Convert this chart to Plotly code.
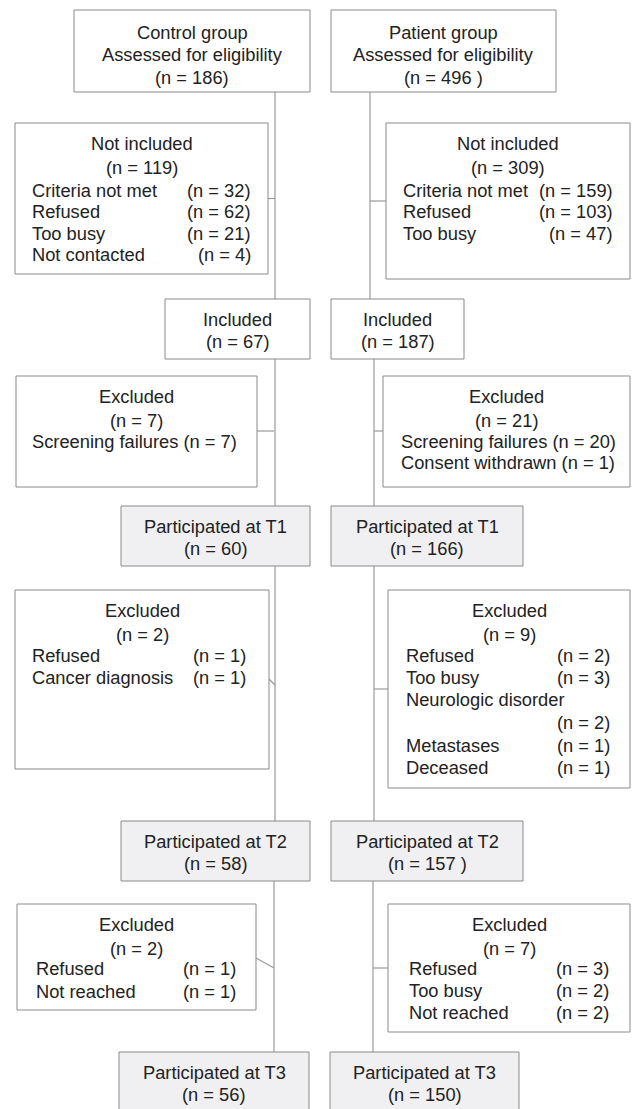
import plotly.graph_objects as go

# ---------------- data ----------------
stage_titles = ["Assessed for eligibility", "Included", "Participated at T1",
                "Participated at T2", "Participated at T3"]
control_n = [186, 67, 60, 58, 56]
patient_n = [496, 187, 166, 157, 150]
control_n_suffix = ["", "", "", "", ""]
patient_n_suffix = [" ", "", "", " ", ""]

ctrl_notinc_total = 119
ctrl_notinc_labels = ["Criteria not met", "Refused", "Too busy", "Not contacted"]
ctrl_notinc_counts = [32, 62, 21, 4]
pat_notinc_total = 309
pat_notinc_labels = ["Criteria not met", "Refused", "Too busy"]
pat_notinc_counts = [159, 103, 47]

ctrl_exc1_total = 7
ctrl_exc1_labels = ["Screening failures"]
ctrl_exc1_counts = [7]
pat_exc1_total = 21
pat_exc1_labels = ["Screening failures", "Consent withdrawn"]
pat_exc1_counts = [20, 1]

ctrl_exc2_total = 2
ctrl_exc2_labels = ["Refused", "Cancer diagnosis"]
ctrl_exc2_counts = [1, 1]
pat_exc2_total = 9
pat_exc2_labels = ["Refused", "Too busy", "Neurologic disorder", "Metastases", "Deceased"]
pat_exc2_counts = [2, 3, 2, 1, 1]

ctrl_exc3_total = 2
ctrl_exc3_labels = ["Refused", "Not reached"]
ctrl_exc3_counts = [1, 1]
pat_exc3_total = 7
pat_exc3_labels = ["Refused", "Too busy", "Not reached"]
pat_exc3_counts = [3, 2, 2]

# ---------------- styles / layout geometry ----------------
W, H = 632, 1109
FONT = dict(family="Liberation Sans, Arial, Helvetica, sans-serif", size=18.3, color="#222222")
BORDER = "#8a8a8a"
LINE = "#9a9a9a"
GRAY_FILL = "#f0f0f2"

fig = go.Figure()
shapes = []
annots = []


def box(x0, x1, y0, y1, fill="white"):
    shapes.append(dict(type="rect", xref="x", yref="y", x0=x0, x1=x1, y0=y0, y1=y1,
                       line=dict(color=BORDER, width=1), fillcolor=fill, layer="above"))


def seg(x0, y0, x1, y1):
    shapes.append(dict(type="line", xref="x", yref="y", x0=x0, y0=y0, x1=x1, y1=y1,
                       line=dict(color=LINE, width=1.2), layer="below"))


def txt(x, y, s, anchor="center"):
    annots.append(dict(x=x, y=y, xref="x", yref="y", text=s, showarrow=False,
                       xanchor=anchor, yanchor="middle", font=FONT))


def ntext(n, suffix=""):
    return f"(n = {n}{suffix})"


# main flow boxes
ctrl_main = [(74, 310, 10, 92), (165, 310, 299, 359), (121, 310, 506, 566),
             (121, 310, 821, 881), (119, 309, 1052, 1125)]
pat_main = [(331, 556, 10, 92), (331, 464, 299, 359), (331, 523, 506, 566),
            (331, 523, 821, 881), (330, 519, 1052, 1125)]
main_fill = ["white", "white", GRAY_FILL, GRAY_FILL, GRAY_FILL]

# spines
ctrl_spine_x = [275, 275, 275, 274]
pat_spine_x = [370, 374, 374, 373]
for i in range(4):
    seg(ctrl_spine_x[i], ctrl_main[i][3], ctrl_spine_x[i], ctrl_main[i + 1][2])
    seg(pat_spine_x[i], pat_main[i][3], pat_spine_x[i], pat_main[i + 1][2])

for i in range(5):
    for (bx, nlist, suf, group) in [(ctrl_main[i], control_n, control_n_suffix, "Control group"),
                                     (pat_main[i], patient_n, patient_n_suffix, "Patient group")]:
        x0, x1, y0, y1 = bx
        box(x0, x1, y0, y1, main_fill[i])
        cx = (x0 + x1) / 2
        if i == 0:
            txt(cx, y0 + 22, group)
            txt(cx, y0 + 44, stage_titles[i])
            txt(cx, y0 + 67, ntext(nlist[i], suf[i]))
        else:
            txt(cx, y0 + 20, stage_titles[i])
            txt(cx, y0 + 42, ntext(nlist[i], suf[i]))


def side_box(x0, x1, y0, y1, header, total, labels, counts, lx, rx, ys,
             conn, centered=False):
    box(x0, x1, y0, y1)
    cx = (x0 + x1) / 2
    txt(cx, y0 + 20, header)
    txt(cx, y0 + 44, ntext(total))
    for lab, cnt, y in zip(labels, counts, ys):
        if centered:
            txt(lx, y, f"{lab} {ntext(cnt)}", anchor="left")
        else:
            txt(lx, y, lab, anchor="left")
            if lab == "Neurologic disorder":
                txt(rx, y + 23, ntext(cnt), anchor="right")
            else:
                txt(rx, y, ntext(cnt), anchor="right")
    seg(*conn)


# Not included
side_box(15, 268, 123, 274, "Not included", ctrl_notinc_total, ctrl_notinc_labels,
         ctrl_notinc_counts, 30, 253, [190, 211.5, 233, 254.5], (268, 198.5, 275, 198.5))
side_box(386, 630, 123, 279, "Not included", pat_notinc_total, pat_notinc_labels,
         pat_notinc_counts, 401, 615, [190, 211.5, 233], (370, 201, 386, 201))

# Excluded before T1
side_box(16, 257, 376, 487, "Excluded", ctrl_exc1_total, ctrl_exc1_labels,
         ctrl_exc1_counts, 30, 242, [441], (257, 431, 274, 431), centered=True)
side_box(383, 630, 376, 487, "Excluded", pat_exc1_total, pat_exc1_labels,
         pat_exc1_counts, 399, 617, [441, 462], (374, 431, 383, 431), centered=True)

# Excluded before T2
side_box(15, 269, 590, 769, "Excluded", ctrl_exc2_total, ctrl_exc2_labels,
         ctrl_exc2_counts, 30, 248, [655, 677], (269, 679, 275, 685))
side_box(388, 630, 590, 788, "Excluded", pat_exc2_total, pat_exc2_labels,
         pat_exc2_counts, 404, 612, [655, 677, 699, 745, 767], (374, 689, 388, 689))

# Excluded before T3
side_box(17, 256, 904, 1010, "Excluded", ctrl_exc3_total, ctrl_exc3_labels,
         ctrl_exc3_counts, 34, 238, [968, 991], (256, 958, 274, 968))
side_box(388, 630, 904, 1032, "Excluded", pat_exc3_total, pat_exc3_labels,
         pat_exc3_counts, 407, 611, [968, 990, 1012], (373, 968, 388, 968))

fig.update_layout(
    width=W, height=H,
    margin=dict(l=0, r=0, t=0, b=0),
    paper_bgcolor="white", plot_bgcolor="white",
    xaxis=dict(range=[0, W], visible=False, fixedrange=True),
    yaxis=dict(range=[H, 0], visible=False, fixedrange=True),
    shapes=shapes, annotations=annots, showlegend=False,
)
fig.write_html("out.html", config={"displayModeBar": False},
               post_script="document.body.style.margin='0';document.body.style.overflow='hidden';")
